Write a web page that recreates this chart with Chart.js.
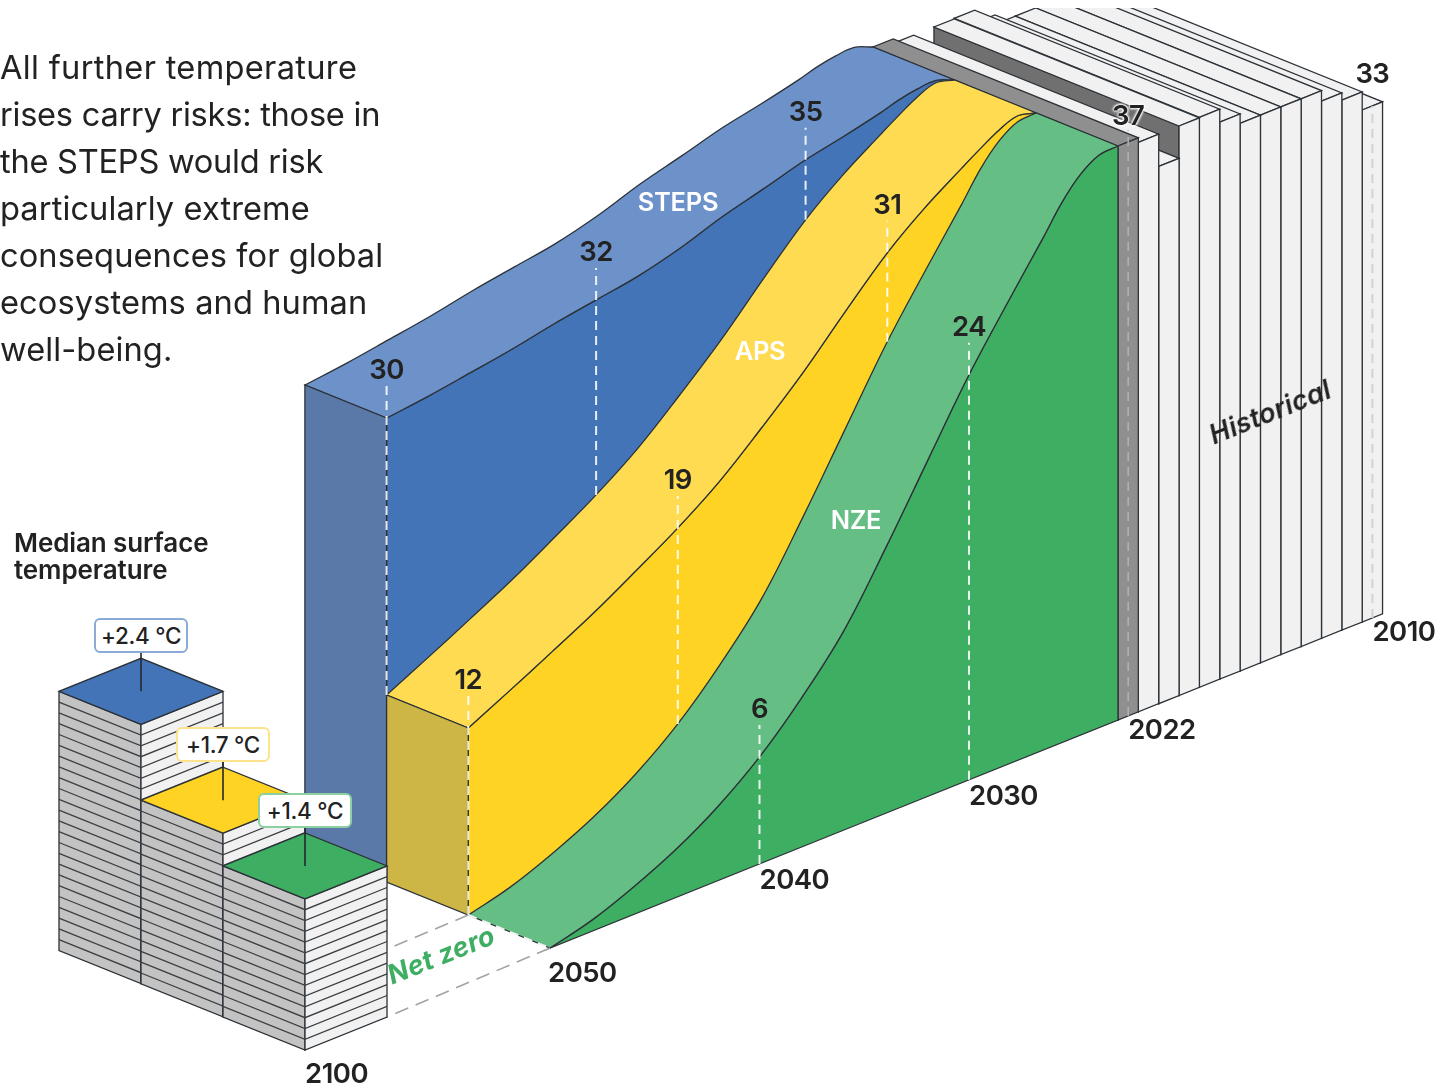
<!DOCTYPE html>
<html lang="en">
<head>
<meta charset="utf-8">
<title>CO2 emissions pathways and median surface temperature</title>
<script src="https://cdn.jsdelivr.net/npm/chart.js@4/dist/chart.umd.min.js"></script>
<style>
  html, body { margin: 0; padding: 0; background: #fff; overflow: hidden; }
  #stage { position: relative; width: 1440px; height: 1087px; font-family: Inter, sans-serif; color: #222; }
  canvas { position: absolute; left: 0; top: 0; }
  .t { position: absolute; white-space: nowrap; transform: translate(-50%, -50%); line-height: 1; }
  .num { font-size: 27.5px; font-weight: 600; letter-spacing: -0.5px; }
  .year { font-size: 27.5px; font-weight: 600; letter-spacing: -0.5px; transform: translate(0, -50%); }
  .name { font-size: 25.5px; font-weight: 600; color: #fff; letter-spacing: -0.3px; }
  .slant { font-size: 27px; font-weight: 600; font-style: italic; letter-spacing: 0.3px; }
  .halo { text-shadow: 0 0 3px #fff, 0 0 3px #fff, 0 0 3px #fff, 0 0 3px #fff; }
  .box { position: absolute; box-sizing: border-box; height: 35px; width: 94px; line-height: 31px; text-align: center;
         font-size: 22.5px; font-weight: 500; letter-spacing: -0.3px; background: #fff; border: 2px solid; border-radius: 6px; }
  #intro { position: absolute; left: 0; top: 44px; font-size: 32.6px; line-height: 47px; font-weight: 400; letter-spacing: 0.1px; white-space: nowrap; }
  #tempTitle { position: absolute; left: 14px; top: 529px; font-size: 26px; line-height: 27px; font-weight: 600; letter-spacing: -0.1px; white-space: nowrap; }
</style>
</head>
<body>
<div id="stage">
  <canvas id="chart" width="1440" height="1087"></canvas>
  <div id="intro"><span style="letter-spacing:.32px">All further temperature</span><br><span style="letter-spacing:-.25px">rises carry risks: those in</span><br><span style="letter-spacing:-.25px">the STEPS would risk</span><br>particularly extreme<br>consequences for global<br>ecosystems and human<br>well-being.</div>
  <div id="tempTitle">Median surface<br>temperature</div>
</div>
<script>
// Energy-related CO2 emissions (Gt) by scenario, and historical emissions
const scenarioYears = [2022, 2023, 2024, 2025, 2026, 2028, 2030, 2032, 2034, 2036, 2038, 2040, 2042, 2044, 2046, 2048, 2050];
const stepsValues   = [37, 37.7, 37.6, 37.25, 36.7, 35.8, 35, 34.43, 33.88, 33.19, 32.5, 32, 30.9, 30.62, 30.39, 30.17, 30];
const apsValues     = [37, 37.47, 36.8, 35.7, 34.76, 33.57, 31, 28.8, 24.36, 22.26, 20.47, 19, 17.43, 15.92, 14.58, 13.27, 12];
const nzeValues     = [37, 36.87, 35.7, 34.36, 33.05, 29.6, 24, 20.57, 16.68, 12.7, 9.15, 6, 4.15, 2.69, 1.55, 0.62, 0];

const historicalYears  = [2010, 2011, 2012, 2013, 2014, 2015, 2016, 2017, 2018, 2019, 2020, 2021, 2022];
const historicalValues = [33, 33.86, 34.2, 34.7, 34.7, 34.7, 34.7, 35.3, 36.6, 36.55, 34.2, 36.55, 37];

// Median surface temperature rise in 2100 (°C), one stacked block per scenario
const temperatureNames  = ['STEPS', 'APS', 'NZE'];
const temperatureValues = [2.4, 1.7, 1.4];

// Values printed on the pathways
const labelledYears = [2030, 2040, 2050];
const axisYears     = [2010, 2022, 2030, 2040, 2050];

// The drawing's emissions axis is calibrated by hand, not uniform
const heightTicks  = [0, 6, 12, 19, 24, 30, 31, 32, 33, 35, 37, 38];
const heightSpans  = [0, 107, 187, 303, 405, 464, 494, 498, 512, 554, 574, 584];

const COL = {
  ink: '#2c3238', steps: '#4474B8', stepsTop: '#6D91C9', stepsEnd: '#5A79A8',
  aps: '#FFD324', apsTop: '#FEDB50', apsEnd: '#CDB645',
  nze: '#3EAE63', nzeTop: '#65BE84', bar: '#F1F1F1', barNow: '#8F8F8F', barSide: '#707070',
  plateSide: '#C3C3C3', dash: 'rgba(255,255,255,0.88)'
};

// Oblique projection: year runs along the ground, scenarios step back in depth
const DEPTH_X = 81.7, DEPTH_Y = 33;
function height(v) {
  for (let i = 1; i < heightTicks.length; i++) {
    if (v <= heightTicks[i]) {
      const f = (v - heightTicks[i - 1]) / (heightTicks[i] - heightTicks[i - 1]);
      return heightSpans[i - 1] + f * (heightSpans[i] - heightSpans[i - 1]);
    }
  }
  return heightSpans[heightSpans.length - 1];
}
function along(year) {
  if (year >= 2030) return 969 - (year - 2030) * 20.95;
  if (year >= 2022) return 1118 - (year - 2022) * 18.6;
  return 1118 + (2022 - year) * 20.35;
}
function project(year, depth, value) {
  const x = along(year);
  return { x: x - DEPTH_X * depth, y: 948 - 0.4014 * (x - 550) - DEPTH_Y * depth - height(value) };
}
function curve(values, depth) {
  return scenarioYears.map((yr, i) => project(yr, depth, values[i]));
}

// Collect the datasets in painting order
const datasets = [];
function addFace(points, fill, tension) {
  datasets.push({
    data: points.concat([points[0]]), faceColor: fill,
    borderColor: COL.ink, borderWidth: 1.3,
    pointRadius: 0, tension: tension || 0, fill: false
  });
}
function addLines(segments, color, width, dash) {
  const data = [];
  segments.forEach(s => { data.push(...s, { x: s[0].x, y: null }); });
  datasets.push({ data, borderColor: color, borderWidth: width, borderDash: dash || [], pointRadius: 0, tension: 0, fill: false, spanGaps: false });
}

// Historical bars, oldest at the back of the painting order
historicalYears.forEach((yr, i) => {
  const v = historicalValues[i];
  const isNow = yr === 2022;
  const a = yr, b = yr - 1;
  addFace([project(a, 0, v), project(a, 3, v), project(a, 3, 0), project(a, 0, 0)], COL.barSide);
  addFace([project(a, 0, v), project(b, 0, v), project(b, 3, v), project(a, 3, v)], isNow ? COL.barNow : COL.bar);
  addFace([project(a, 0, v), project(b, 0, v), project(b, 0, 0), project(a, 0, 0)], isNow ? COL.barNow : COL.bar);
});
const lastIdx = scenarioYears.length - 1;
const endYear = scenarioYears[lastIdx], startYear = scenarioYears[0];

// Ribbon of one scenario: top surface, front wall and end cap.
// Repeated points keep the corners sharp while the spline rounds the pathway.
const RIBBON_TENSION = 0.38;
function addScenario(values, depth, top, front, end) {
  const near = curve(values, depth);
  const far = curve(values, depth + 1).reverse();
  const a = project(endYear, depth, 0), b = project(startYear, depth, 0);
  addFace([near[0], ...near, near[lastIdx], a, a, b, b], front, RIBBON_TENSION);
  addFace([near[0], ...near, near[lastIdx], far[0], ...far, far[lastIdx]], top, RIBBON_TENSION);
  if (values[lastIdx] > 0) {
    addFace([near[lastIdx], far[0], project(endYear, depth + 1, 0), project(endYear, depth, 0)], end);
  }
}
addScenario(stepsValues, 2, COL.stepsTop, COL.steps, COL.stepsEnd);
addScenario(apsValues, 1, COL.apsTop, COL.aps, COL.apsEnd);
addScenario(nzeValues, 0, COL.nzeTop, COL.nze, COL.nze);

// Dashed leaders rising from each value to its printed label
function valueAt(values, year) { return values[scenarioYears.indexOf(year)]; }
const leaders = [];
labelledYears.forEach(yr => {
  [[stepsValues, apsValues, 2], [apsValues, nzeValues, 1], [nzeValues, null, 0]].forEach(([own, next, d]) => {
    if (valueAt(own, yr) === 0) return;
    const top = project(yr, d, valueAt(own, yr));
    const foot = project(yr, d, next ? valueAt(next, yr) : 0);
    leaders.push([{ x: foot.x, y: foot.y }, { x: top.x, y: top.y - 32 }]);
  });
});
addLines(leaders, COL.dash, 2, [9, 6]);
addLines([[project(2050, 1, 0), project(2050, 0, 0)]], 'rgba(255,255,255,0.95)', 2, [9, 6]);

// Leaders on the two labelled historical bars
const barMid = yr => project(yr - 0.5, 0, 0);
const hist2010 = barMid(2010), hist2022 = barMid(2022);
addLines([[hist2010, { x: hist2010.x, y: project(2009.5, 0, historicalValues[0]).y }]], '#D2D2D2', 2, [9, 6]);
addLines([[hist2022, { x: hist2022.x, y: project(2021.5, 0, historicalValues[12]).y - 12 }]], '#B2B2B2', 1.5, [9, 6]);

// Temperature blocks in front of the pathways: one plate per 0.1 °C
const BLOCK_W = 82, BLOCK_D = 33, PLATE = 10.8;
function blockAnchor(i) { return { x: 141 + 82 * i, bottom: 983.5 + 33.3 * i }; }
function blockTop(i) {
  const a = blockAnchor(i);
  return { x: a.x, y: a.bottom - temperatureValues[i] * 10 * PLATE };
}
const scenarioFill = [COL.steps, COL.aps, COL.nze];
const endOfBlock = blockAnchor(2);
addLines([
  [project(2050, 1, 0), { x: endOfBlock.x + BLOCK_W, y: endOfBlock.bottom - 101 }],
  [project(2050, 0, 0), { x: endOfBlock.x + BLOCK_W, y: endOfBlock.bottom - BLOCK_D }]
], '#A3A3A3', 1.6, [14, 8]);
temperatureValues.forEach((t, i) => {
  const { x, bottom } = blockAnchor(i);
  const top = blockTop(i).y;
  addFace([{ x: x - BLOCK_W, y: top - BLOCK_D }, { x, y: top }, { x, y: bottom }, { x: x - BLOCK_W, y: bottom - BLOCK_D }], COL.plateSide);
  addFace([{ x: x + BLOCK_W, y: top - BLOCK_D }, { x, y: top }, { x, y: bottom }, { x: x + BLOCK_W, y: bottom - BLOCK_D }], COL.bar);
  const plates = [];
  const count = Math.round(t * 10);
  for (let k = 1; k < count; k++) {
    const y = top + k * (bottom - top) / count;
    plates.push([{ x: x - BLOCK_W, y: y - BLOCK_D }, { x, y }, { x: x + BLOCK_W, y: y - BLOCK_D }]);
  }
  addLines(plates, '#3b3f43', 1.3);
  addFace([{ x, y: top }, { x: x - BLOCK_W, y: top - BLOCK_D }, { x, y: top - 2 * BLOCK_D }, { x: x + BLOCK_W, y: top - BLOCK_D }], scenarioFill[i]);
  addLines([[{ x, y: top - 2 * BLOCK_D - 6 }, { x, y: top - BLOCK_D }]], '#23282c', 1.6);
});

// Earlier datasets paint first
datasets.forEach((d, i) => { d.order = datasets.length - i; });

// Chart.js line elements have no closed-shape fill, so faces are filled here
const faceFill = {
  id: 'faceFill',
  beforeDatasetDraw(chart, args) {
    const ds = chart.data.datasets[args.index];
    if (!ds.faceColor) return;
    const { ctx, chartArea: a } = chart;
    const line = args.meta.dataset;
    line.updateControlPoints(a, 'x');
    ctx.save();
    ctx.beginPath();
    ctx.rect(a.left, a.top, a.right - a.left, a.bottom - a.top);
    ctx.clip();
    ctx.beginPath();
    line.path(ctx);
    ctx.closePath();
    ctx.fillStyle = ds.faceColor;
    ctx.fill();
    ctx.restore();
  }
};

const chart = new Chart(document.getElementById('chart'), {
  type: 'line',
  data: { datasets },
  plugins: [faceFill],
  options: {
    responsive: false,
    animation: false,
    events: [],
    layout: { padding: { top: 8 } },
    parsing: { xAxisKey: 'x', yAxisKey: 'y' },
    plugins: { legend: { display: false }, tooltip: { enabled: false } },
    scales: {
      x: { type: 'linear', display: false, min: 0, max: 1440 },
      y: { type: 'linear', display: false, min: 8, max: 1087, reverse: true }
    }
  }
});

// Text sits above the canvas, placed through the chart's scales
const stage = document.getElementById('stage');
const px = p => ({ x: chart.scales.x.getPixelForValue(p.x), y: chart.scales.y.getPixelForValue(p.y) });
function put(text, p, cls, extra) {
  const el = document.createElement('div');
  el.className = 't ' + cls;
  el.textContent = text;
  el.style.left = p.x + 'px';
  el.style.top = p.y + 'px';
  Object.assign(el.style, extra || {});
  stage.appendChild(el);
  return el;
}
function shifted(p, dx, dy) { const q = px(p); return { x: q.x + dx, y: q.y + dy }; }

labelledYears.forEach(yr => {
  [[stepsValues, 2], [apsValues, 1], [nzeValues, 0]].forEach(([own, d]) => {
    const v = valueAt(own, yr);
    if (v > 0) put(String(v), shifted(project(yr, d, v), 0, -48), 'num');
  });
});
put(String(historicalValues[0]), { x: hist2010.x, y: 74 }, 'num');
put(String(historicalValues[12]), { x: hist2022.x, y: 116 }, 'num halo');

axisYears.forEach(yr => {
  const at = yr === 2022 ? barMid(2022) : yr === 2010 ? barMid(2010) : project(yr, 0, 0);
  const drop = yr === 2050 ? 25 : (yr === 2030 || yr === 2040) ? 16 : 14;
  put(String(yr), shifted(at, yr === 2050 ? -2 : 0, drop), 'year');
});
put('2100', shifted({ x: blockAnchor(2).x, y: blockAnchor(2).bottom }, 0, 24), 'year');

put('STEPS', { x: 678, y: 202 }, 'name');
put('APS', { x: 760, y: 351 }, 'name');
put('NZE', { x: 856, y: 520 }, 'name');
put('Historical', { x: 1270, y: 412 }, 'slant', { transform: 'translate(-50%,-50%) rotate(-21.8deg)' });
put('Net zero', { x: 441, y: 955 }, 'slant', { color: '#3EAE63', fontWeight: '700', transform: 'translate(-50%,-50%) rotate(-21.8deg)' });

const boxEdge = ['#8AAAD8', '#FEE28C', '#8CCFA0'];
temperatureValues.forEach((t, i) => {
  const top = px(blockTop(i));
  const el = document.createElement('div');
  el.className = 'box';
  el.textContent = '+' + t.toFixed(1) + ' °C';
  el.style.borderColor = boxEdge[i];
  el.style.left = (top.x - 47) + 'px';
  el.style.top = (top.y - BLOCK_D - 73) + 'px';
  stage.appendChild(el);
});
</script>
</body>
</html>
